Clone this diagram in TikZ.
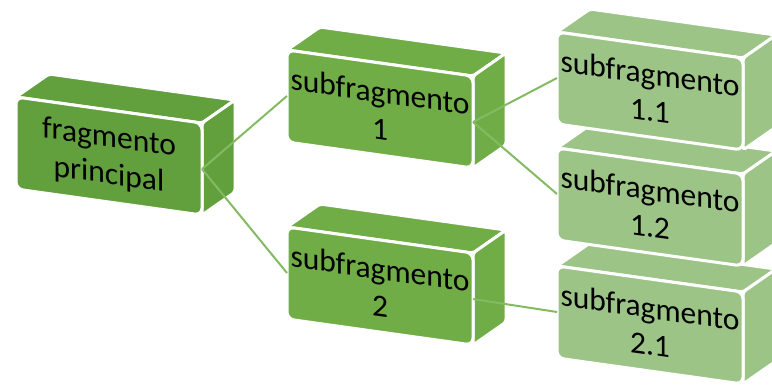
\documentclass[tikz,border=0pt]{standalone}
\usepackage{fontspec}
\setmainfont{Carlito}
\definecolor{gmain}{HTML}{62A03D}
\definecolor{gsub}{HTML}{70AD47}
\definecolor{gleaf}{HTML}{9DC487}
\definecolor{glink}{HTML}{84BA62}
\tikzset{
  face/.style={draw=white, line width=3pt, line join=round},
  boxtext/.style={transform shape, align=center, text=black,
    font=\fontsize{31.5}{37}\selectfont, inner sep=0pt},
  link/.style={glink, line width=2pt}
}
% 3D block: #1 name, #2 x, #3 y (front top-left), #4 fill, #5 text
\newcommand\bloque[5]{%
  \begin{scope}[shift={(#2,#3)}, yslant=-0.14]
    \fill[#4, face, rounded corners=3pt] (0,0) -- (186,0) -- (219,27.6) -- (33,27.6) -- cycle;
    \fill[#4, face, rounded corners=3pt] (186,0) -- (186,-92) -- (219,-64.4) -- (219,27.6) -- cycle;
    \fill[#4, face, rounded corners=7pt] (0,0) rectangle (186,-92);
    \node[boxtext] (#1) at (93,-47) {#5};
    \coordinate (#1-l) at (0,-46);
    \coordinate (#1-r) at (186,-46);
  \end{scope}}
\begin{document}
\begin{tikzpicture}[x=1pt, y=1pt]
  \useasboundingbox (0,0) rectangle (772,-385);
  \bloque{p}{16}{-97}{gmain}{fragmento\\principal}
  \bloque{s1}{287}{-50}{gsub}{subfragmento\\1}
  \bloque{s2}{287}{-227}{gsub}{subfragmento\\2}
  \bloque{s21}{557}{-266}{gleaf}{subfragmento\\2.1}
  \bloque{s12}{557}{-148}{gleaf}{subfragmento\\1.2}
  \bloque{s11}{557}{-32}{gleaf}{subfragmento\\1.1}
  \draw[link] (p-r) -- (s1-l);
  \draw[link] (p-r) -- (s2-l);
  \draw[link] (s1-r) -- (s11-l);
  \draw[link] (s1-r) -- (s12-l);
  \draw[link] (s2-r) -- (s21-l);
\end{tikzpicture}
\end{document}
